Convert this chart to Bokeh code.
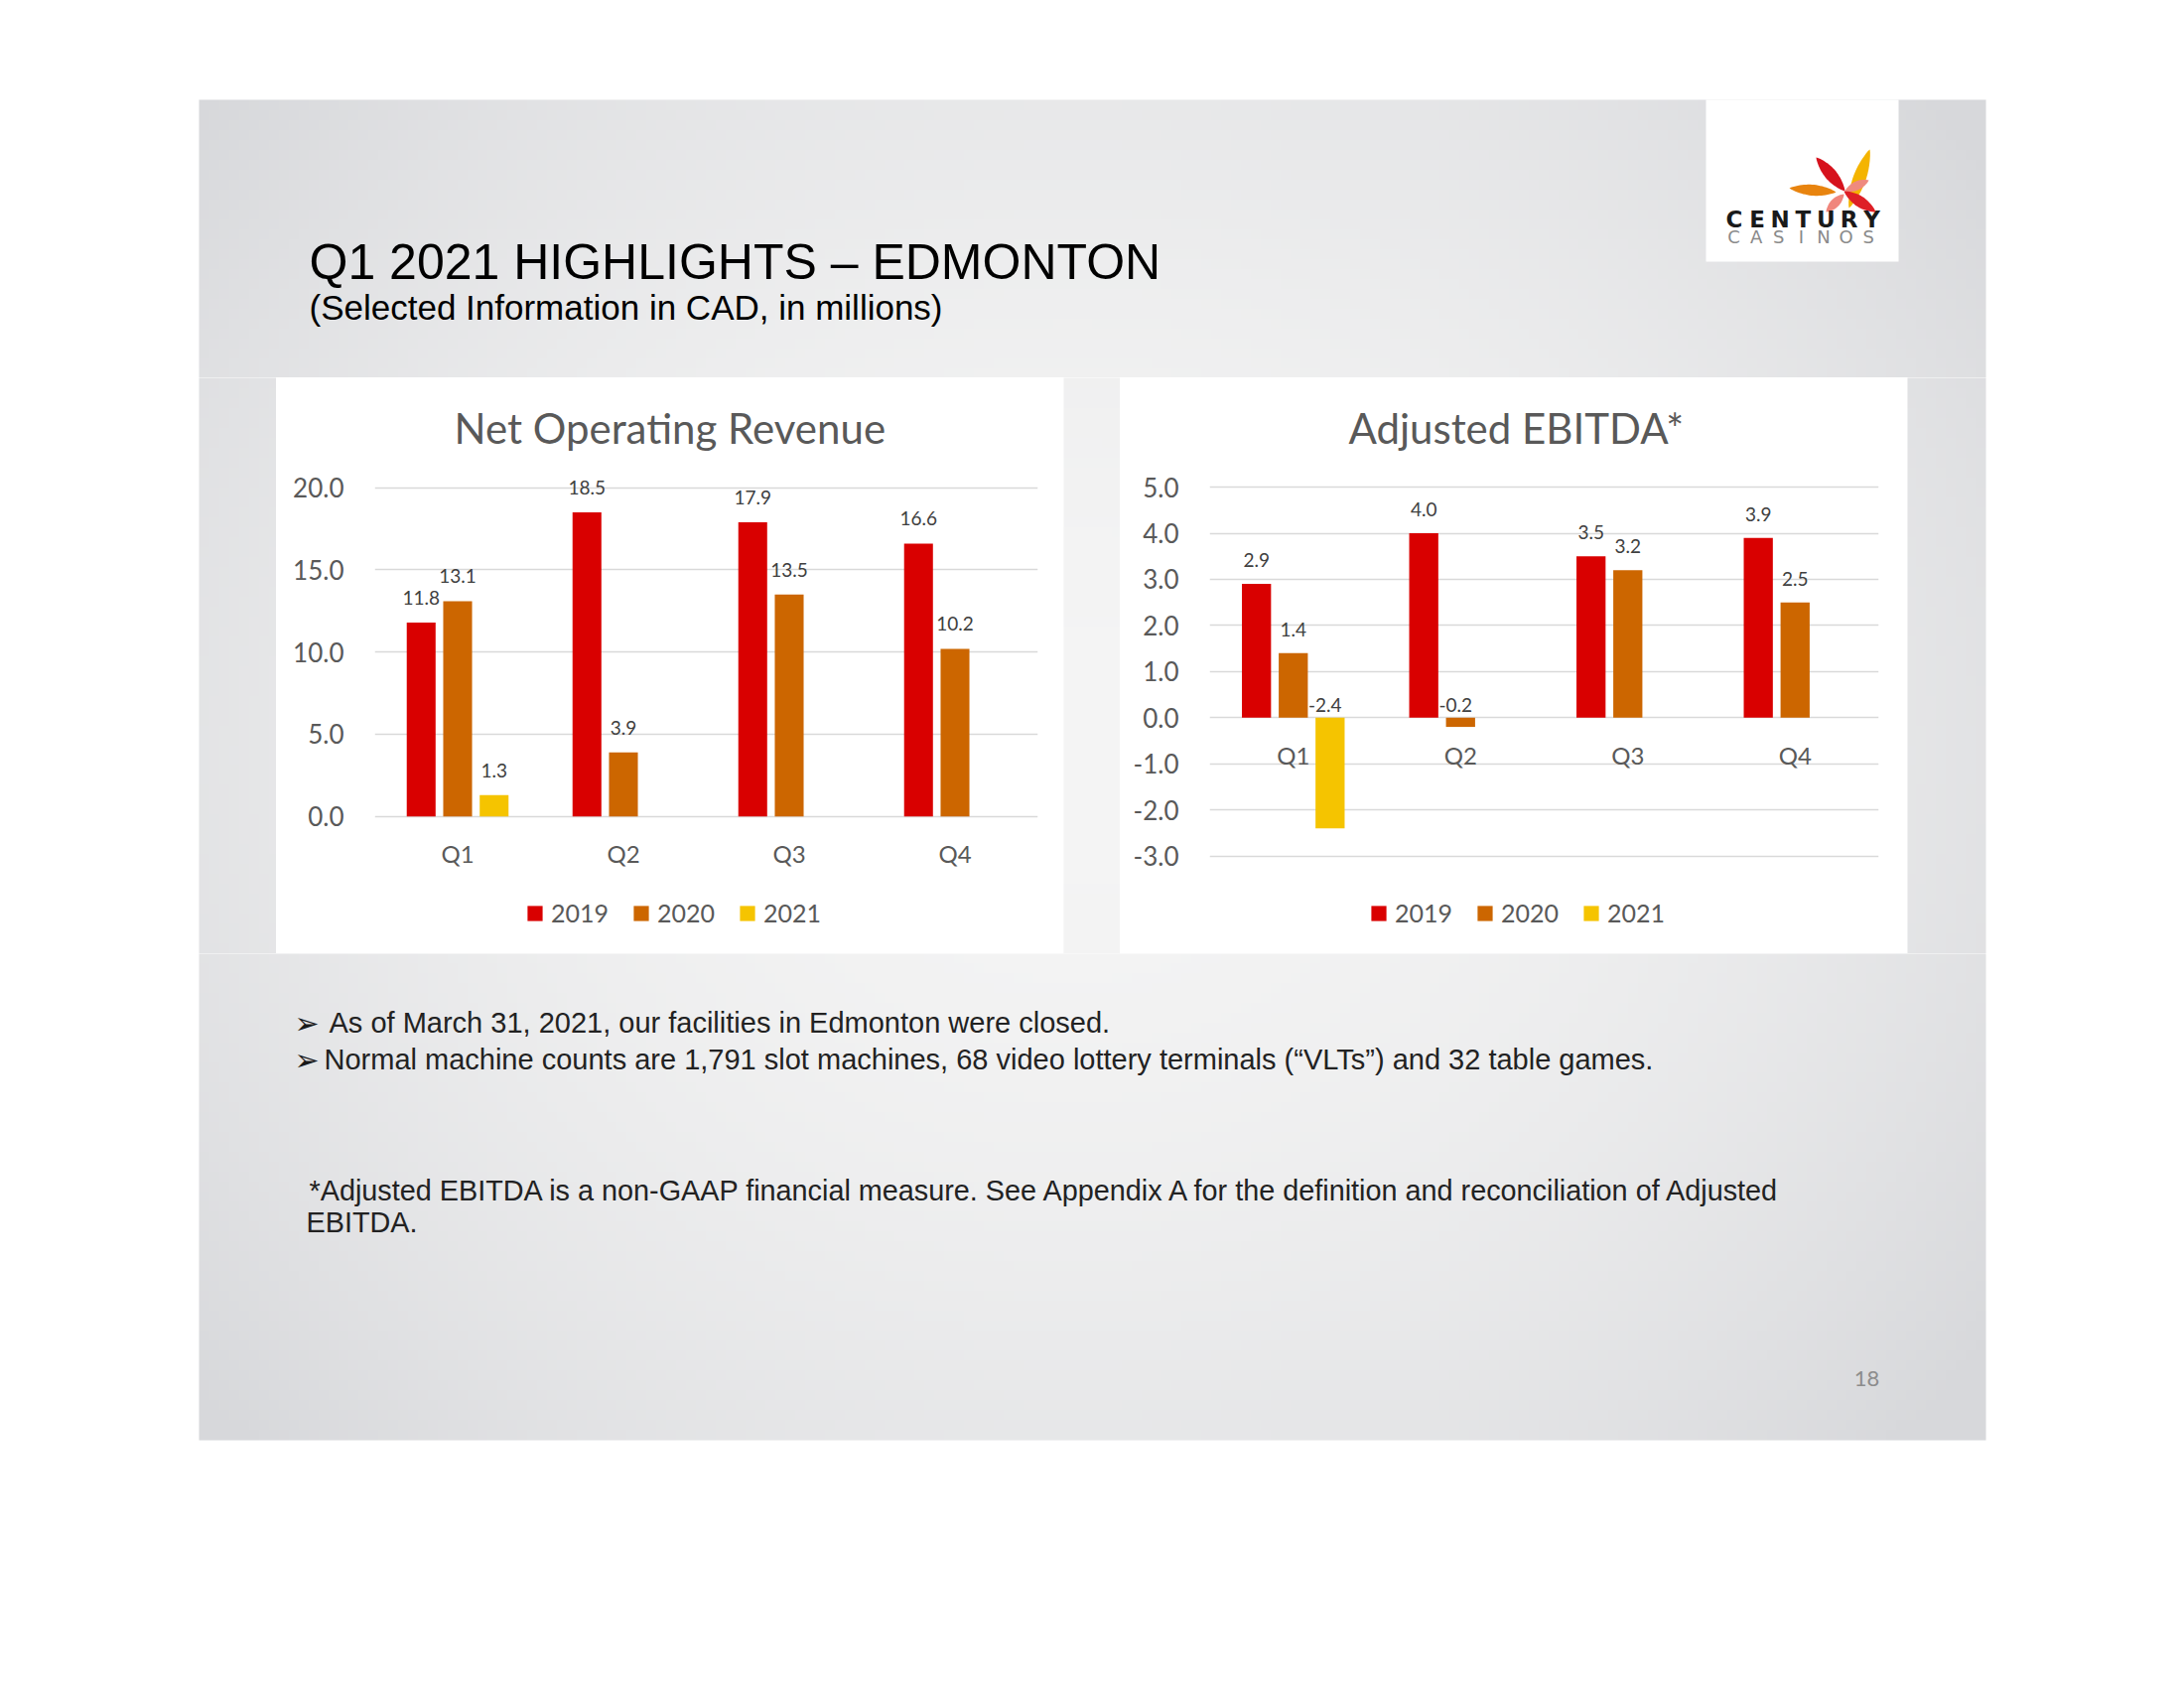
import numpy as np
from bokeh.plotting import figure
from bokeh.models import (ColumnDataSource, Range1d, FactorRange, FixedTicker,
                          NumeralTickFormatter, Legend, LegendItem, Title)
from bokeh.layouts import row, column
from bokeh.transform import dodge
from bokeh.core.properties import value
from bokeh.embed import file_html
from bokeh.resources import INLINE

# ---------------- data ----------------
quarters = ["Q1", "Q2", "Q3", "Q4"]
years = ["2019", "2020", "2021"]
revenue_2019 = [11.8, 18.5, 17.9, 16.6]
revenue_2020 = [13.1, 3.9, 13.5, 10.2]
revenue_2021 = [1.3, None, None, None]
ebitda_2019 = [2.9, 4.0, 3.5, 3.9]
ebitda_2020 = [1.4, -0.2, 3.2, 2.5]
ebitda_2021 = [-2.4, None, None, None]
revenue_ticks = [0, 5, 10, 15, 20]
ebitda_ticks = [-3, -2, -1, 0, 1, 2, 3, 4, 5]
year_colors = ["#d90000", "#cc6600", "#f5c400"]

slide_title = "Q1 2021 HIGHLIGHTS \u2013 EDMONTON"
slide_subtitle = "(Selected Information in CAD, in millions)"
chart_titles = ["Net Operating Revenue", "Adjusted EBITDA*"]
bullets = [
    "As of March 31, 2021, our facilities in Edmonton were closed.",
    "Normal machine counts are 1,791 slot machines, 68 video lottery terminals (\u201cVLTs\u201d) and 32 table games.",
]
footnote = [
    "*Adjusted EBITDA is a non-GAAP financial measure. See Appendix A for the definition and reconciliation of Adjusted",
    "EBITDA.",
]
page_number = "18"

AXIS_GRAY = "#595959"
LABEL_GRAY = "#404040"
BASE_FIX = 0.33  # baseline correction (fraction of font size)
SLIDE = (200, 2000, 100, 1450)  # left, right, top, bottom (page px)


# ---------------- slide background ----------------
def slide_gradient():
    n_y, n_x = 135, 180
    xs = 200 + (np.arange(n_x) + 0.5) * 10.0
    ys = 1450 - (np.arange(n_y) + 0.5) * 10.0  # row 0 = bottom of slide
    X, Y = np.meshgrid(xs, ys)
    d = np.sqrt(((X - 1080) / 1150.0) ** 2 + ((Y - 760) / 1000.0) ** 2)
    t = np.clip(d, 0, 1) ** 2.0
    c0 = np.array([244, 244, 244], dtype=float)
    c1 = np.array([215, 216, 219], dtype=float)
    img = np.empty((n_y, n_x), dtype=np.uint32)
    view = img.view(dtype=np.uint8).reshape((n_y, n_x, 4))
    for k in range(3):
        view[..., k] = np.round(c0[k] + (c1[k] - c0[k]) * t).astype(np.uint8)
    view[..., 3] = 255
    return img


BG = slide_gradient()


def make_band(x0, x1, y0, y1):
    p = figure(width=x1 - x0, height=y1 - y0,
               x_range=Range1d(x0, x1), y_range=Range1d(-y1, -y0),
               output_backend="svg", toolbar_location=None,
               x_axis_location=None, y_axis_location=None,
               min_border=0, outline_line_color=None, frame_align=False,
               background_fill_color="white", border_fill_color="white")
    p.grid.visible = False
    sl, sr, st, sb = SLIDE
    p.image_rgba(image=[BG], x=sl, y=-sb, dw=sr - sl, dh=sb - st)
    return p


def put_text(p, x, baseline, txt, font, size, color, align="left", style="normal"):
    p.text(x=[x], y=[-(baseline - BASE_FIX * size)], text=[txt], text_align=align,
           text_baseline="alphabetic", text_font=value(font),
           text_font_style=style, text_font_size=f"{size}px", text_color=color)


def petal(x1, y1, x2, y2, w, n=24):
    t = np.linspace(0, 1, n)
    dx, dy = x2 - x1, y2 - y1
    L = np.hypot(dx, dy)
    nx, ny = -dy / L, dx / L
    half = 0.5 * w * np.sin(np.pi * t) ** 0.8
    px = np.concatenate([x1 + dx * t + nx * half, (x1 + dx * t - nx * half)[::-1]])
    py = np.concatenate([y1 + dy * t + ny * half, (y1 + dy * t - ny * half)[::-1]])
    return list(px), list(-py)


def y_limits(zero_px, px_per_unit, top_px, bottom_px):
    return (-(bottom_px - zero_px) / px_per_unit, (zero_px - top_px) / px_per_unit)


# ---------------- charts ----------------
def make_chart(title, series, ylim, ticks, borders, title_offset,
               title_standoff, legend_xy, dy_pos, dy_neg):
    bl, br, bt, bb = borders
    p = figure(width=793, height=580,
               x_range=FactorRange(factors=quarters), y_range=Range1d(*ylim),
               output_backend="svg", toolbar_location=None,
               min_border_left=bl, min_border_right=br,
               min_border_top=bt, min_border_bottom=bb, frame_align=False,
               background_fill_color="white", border_fill_color="white",
               outline_line_color=None)
    p.add_layout(Title(text=title, align="left", offset=title_offset,
                       standoff=title_standoff, text_font="Lato",
                       text_font_size="42px", text_font_style="normal",
                       text_color=AXIS_GRAY), "above")

    xa = p.xaxis[0]
    xa.fixed_location = 0
    xa.axis_line_color = None
    xa.major_tick_line_color = None
    xa.minor_tick_line_color = None
    xa.major_label_standoff = 17
    xa.major_label_text_font = "Lato"
    xa.major_label_text_font_size = "24px"
    xa.major_label_text_color = AXIS_GRAY

    ya = p.yaxis[0]
    ya.ticker = FixedTicker(ticks=ticks)
    ya.formatter = NumeralTickFormatter(format="0.0")
    ya.axis_line_color = None
    ya.major_tick_line_color = None
    ya.minor_tick_line_color = None
    ya.major_label_standoff = 25
    ya.major_label_text_font = "Lato"
    ya.major_label_text_font_size = "26px"
    ya.major_label_text_color = AXIS_GRAY

    p.xgrid.visible = False
    p.ygrid.ticker = FixedTicker(ticks=ticks)
    p.ygrid.grid_line_color = "#d9d9d9"
    p.ygrid.grid_line_width = 1.3

    offsets = [-0.22, 0.0, 0.22]
    items = []
    for yr, vals, off, col in zip(years, series, offsets, year_colors):
        qs = [q for q, v in zip(quarters, vals) if v is not None]
        vs = [v for v in vals if v is not None]
        src = ColumnDataSource(dict(
            q=qs, v=vs,
            ly=[max(v, 0) for v in vs],
            dy=[dy_pos if v >= 0 else dy_neg for v in vs],
            dx=[0 if v >= 0 else -5 for v in vs],
            lbl=[f"{v:.1f}" for v in vs]))
        r = p.vbar(x=dodge("q", off, range=p.x_range), top="v", bottom=0,
                   width=0.174, source=src, fill_color=col, line_color=None)
        p.text(x=dodge("q", off, range=p.x_range), y="ly", y_offset="dy",
               x_offset="dx", text="lbl", source=src, text_align="center",
               text_baseline="middle", text_font=value("Lato"),
               text_font_size="19px", text_color=LABEL_GRAY)
        items.append(LegendItem(label=yr, renderers=[r]))

    lg = Legend(items=items, orientation="horizontal", location=legend_xy,
                glyph_width=19, glyph_height=19, label_standoff=7, spacing=23,
                label_height=30, padding=0, margin=0, border_line_color=None,
                background_fill_alpha=0, label_text_font="Lato",
                label_text_font_size="25px", label_text_color=AXIS_GRAY)
    p.add_layout(lg)
    return p


chart1 = make_chart(chart_titles[0], [revenue_2019, revenue_2020, revenue_2021],
                    y_limits(821.7, 16.55, 474, 950), revenue_ticks,
                    (99, 26, 94, 10), 80, 38, (152, 16), -25, -13)
chart2 = make_chart(chart_titles[1], [ebitda_2019, ebitda_2020, ebitda_2021],
                    y_limits(722.3, 46.45, 474, 950), ebitda_ticks,
                    (90, 29, 94, 10), 140, 38, (161, 16), -24, -12.5)

# ---------------- slide bands ----------------
top = make_band(0, 2190, 0, 380)
put_text(top, 311, 280, slide_title, "Liberation Sans", 50, "#000000")
put_text(top, 311, 321, slide_subtitle, "Liberation Sans", 35, "#000000")
# logo
top.quad(left=[1718], right=[1912], bottom=[-263], top=[-100], fill_color="white", line_color=None)
petals = [
    (1802, 189, 1849, 193, 11, "#e8840f"),
    (1829, 158, 1858, 192, 12, "#d6121d"),
    (1883, 150, 1862, 209, 13, "#f4b400"),
    (1882, 181, 1858, 192, 9, "#ef8a7e"),
    (1857, 192, 1889, 213, 11, "#de1f26"),
    (1839, 213, 1857, 195, 9, "#f0867c"),
]
pxs, pys, pcs = [], [], []
for (a, b, c, d, w, col) in petals:
    xx, yy = petal(a, b, c, d, w)
    pxs.append(xx); pys.append(yy); pcs.append(col)
top.patches(xs=pxs, ys=pys, fill_color=pcs, line_color=None)
for i, ch in enumerate("CENTURY"):
    put_text(top, 1746.5 + 23.1 * i, 228, ch, "DejaVu Sans", 23, "#1a1a1a", "center", "bold")
for i, ch in enumerate("CASINOS"):
    put_text(top, 1746 + 22.6 * i, 244, ch, "DejaVu Sans", 18, "#8a8a8a", "center")

left_strip = make_band(0, 278, 380, 960)
gap_strip = make_band(1071, 1128, 380, 960)
right_strip = make_band(1921, 2190, 380, 960)

bottom = make_band(0, 2190, 960, 1690)
for bx, by, txt in zip([331, 326], [1039, 1076], bullets):
    put_text(bottom, 296, by + 1, "\u27a2", "DejaVu Sans", 30, "#1a1a1a")
    put_text(bottom, bx, by, txt, "Liberation Sans", 29, "#222222")
for fx, fy, txt in zip([311, 308], [1208, 1240], footnote):
    put_text(bottom, fx, fy, txt, "Liberation Sans", 28.8, "#222222")
put_text(bottom, 1880, 1395, page_number, "Lato", 22, "#8c8c8c", "center")

layout = column(top,
                row(left_strip, chart1, gap_strip, chart2, right_strip, spacing=0),
                bottom, spacing=0)

open("out.html", "w").write(file_html(layout, INLINE, title="Q1 2021 Highlights - Edmonton"))
